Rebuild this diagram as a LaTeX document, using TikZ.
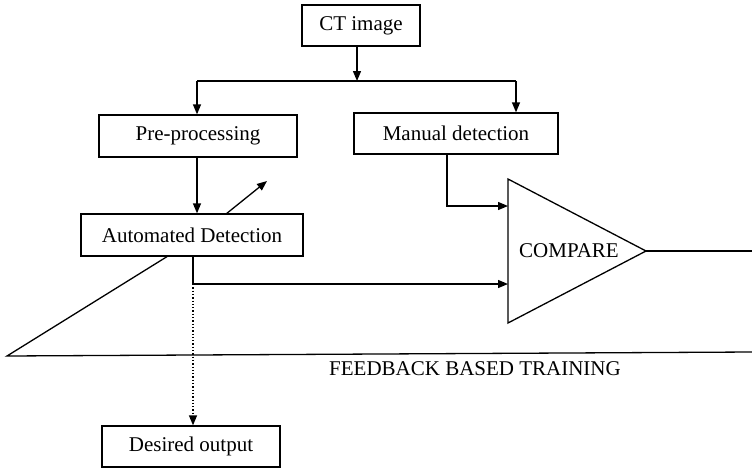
\documentclass[tikz,border=0pt]{standalone}
\usepackage{fontspec}
\setmainfont{Liberation Serif}
\usetikzlibrary{arrows.meta,calc}
\begin{document}
\begin{tikzpicture}[x=1pt,y=-1pt,
  txt/.style={font=\fontsize{21}{24}\selectfont},
  box/.style={draw,line width=1.3pt,minimum width=#1,inner sep=0pt,txt},
  box/.default=100pt,
  ln/.style={line width=1.3pt},
  arr/.style={ln,-{Triangle[length=10pt,width=8pt]}}]
\useasboundingbox (0,0) rectangle (752,469);
\node[box=118pt,minimum height=41pt] (ct) at (361,25.5) {CT image};
\node[box=198pt,minimum height=42pt] (pre) at (198,136) {Pre-processing};
\node[box=204pt,minimum height=41pt] (man) at (456,133.5) {Manual detection};
\node[box=222pt,minimum height=42pt] (auto) at (192,235) {Automated Detection};
\node[box=178pt,minimum height=41pt] (des) at (191,446.5) {Desired output};
\coordinate (t1) at (508,179);
\coordinate (t2) at (508,323);
\coordinate (t3) at (646,251);
\draw[ln,line join=miter] (t1) -- (t3) -- (t2) -- cycle;
\node[txt,inner sep=0pt] (cmp) at (569,251) {COMPARE};
\coordinate (j) at (357,81);
\coordinate (jl) at (197,81);
\coordinate (jr) at (516,81);
\draw[arr] (ct.south -| j) -- (j);
\draw[ln] (jl) -- (jr);
\draw[arr] (jl) -- (jl |- pre.north);
\draw[arr] (jr) -- (jr |- man.north);
\draw[arr] (pre.south -| jl) -- (jl |- auto.north);
\coordinate (aout) at (267,181);
\draw[arr] (226,214) -- (aout);
\coordinate (in1) at (508,206);
\coordinate (in2) at (508,284);
\coordinate (mx) at (447,206);
\coordinate (ax) at (193,284);
\draw[arr] (man.south -| mx) -- (mx) -- (in1);
\draw[arr] (auto.south -| ax) -- (ax) -- (in2);
\draw[ln,dotted,-{Triangle[length=10pt,width=8pt]}] (ax) -- (ax |- des.north);
\coordinate (fl) at (7,356);
\coordinate (fr) at (752,352);
\draw[ln] (168,256) -- (fl) -- (fr);
\coordinate (outr) at (752,251);
\draw[ln] (t3) -- (outr);
\node[txt,inner sep=0pt] (fb) at (475,369) {FEEDBACK BASED TRAINING};
\end{tikzpicture}
\end{document}
